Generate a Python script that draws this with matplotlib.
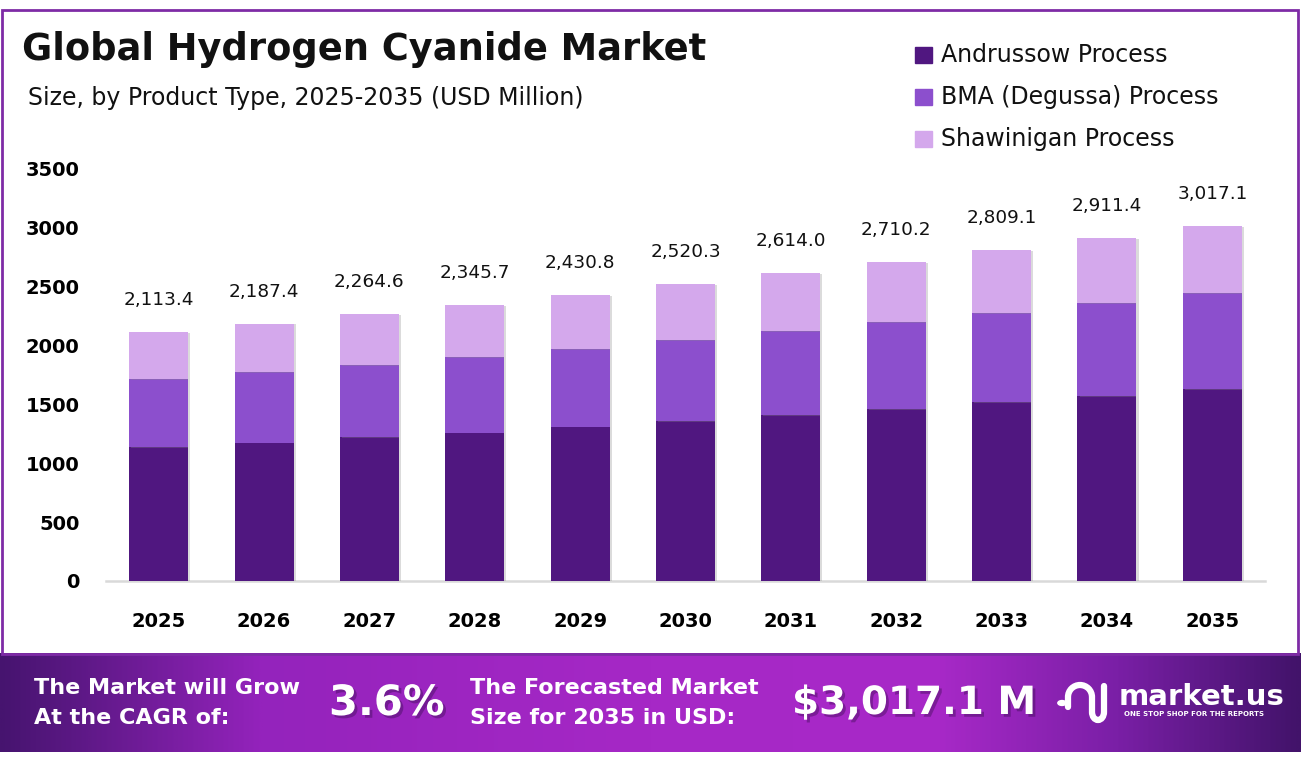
import numpy as np
import matplotlib.pyplot as plt
import matplotlib.patheffects as pe
from matplotlib.colors import LinearSegmentedColormap
from matplotlib.patches import Rectangle, Arc
from matplotlib.lines import Line2D

plt.rcParams['font.family'] = ['DejaVu Sans']

# Données (USD Million)
years = ["2025", "2026", "2027", "2028", "2029", "2030", "2031", "2032", "2033", "2034", "2035"]
andrussow = [1136, 1176, 1221, 1261, 1312, 1355, 1406, 1457, 1517, 1568, 1627]
bma = [576, 596, 611, 639, 656, 690, 715, 741, 758, 792, 818]
shawinigan = [401, 415, 433, 446, 463, 475, 493, 512, 534, 551, 572]
totals = [2113.4, 2187.4, 2264.6, 2345.7, 2430.8, 2520.3, 2614.0, 2710.2, 2809.1, 2911.4, 3017.1]
series_names = ["Andrussow Process", "BMA (Degussa) Process", "Shawinigan Process"]
colors = ["#501780", "#8C4FCD", "#D4A8EC"]
cagr = "3.6%"
forecast = "$3,017.1 M"

W, H = 1301, 766
fig = plt.figure(figsize=(W / 100, H / 100), dpi=100)

def fx(x):
    return x / W

def fy(y):
    return 1 - y / H

# cadre violet
fig.patches.append(Rectangle((fx(2), fy(654)), fx(1296), fy(10) - fy(654),
                             transform=fig.transFigure, fill=False,
                             edgecolor="#7E2BA6", linewidth=2, zorder=0))

# graphique
ax = fig.add_axes([fx(106), fy(581), fx(1265) - fx(106), fy(169) - fy(581)])
x = np.arange(len(years))
shadow = [pe.SimplePatchShadow(offset=(1.5, -0.5), shadow_rgbFace="#888888", alpha=0.3), pe.Normal()]
bottom = np.zeros(len(years))
for vals, name, c in zip([andrussow, bma, shawinigan], series_names, colors):
    bars = ax.bar(x, vals, width=0.56, bottom=bottom, color=c, label=name, zorder=3)
    for b in bars:
        b.set_path_effects(shadow)
    bottom = bottom + np.array(vals)

for xi, t in zip(x, totals):
    ax.annotate(f"{t:,.1f}", (xi, t), xytext=(0, 23), textcoords="offset points",
                ha="center", va="center", fontsize=13.3, color="#111111")

ax.set_xlim(-0.5, 10.5)
ax.set_ylim(0, 3500)
ax.set_yticks(range(0, 3501, 500))
ax.set_xticks(x)
ax.set_xticklabels(years)
for s in ["top", "right", "left"]:
    ax.spines[s].set_visible(False)
ax.spines["bottom"].set_color("#D9D9D9")
ax.spines["bottom"].set_linewidth(1.8)
ax.tick_params(axis="both", length=0, labelsize=14)
ax.tick_params(axis="y", pad=19)
ax.tick_params(axis="x", pad=22)
for lab in ax.get_xticklabels() + ax.get_yticklabels():
    lab.set_fontweight("bold")

# titre
fig.text(fx(22), fy(49), "Global Hydrogen Cyanide Market", fontsize=26.5, fontweight="bold",
         ha="left", va="center", color="#111111")
fig.text(fx(28), fy(98), "Size, by Product Type, 2025-2035 (USD Million)", fontsize=17,
         ha="left", va="center", color="#111111")

# légende
for i, (name, c) in enumerate(zip(series_names, colors)):
    yy = 55 + 42 * i
    fig.patches.append(Rectangle((fx(915), fy(yy + 8)), fx(17), fy(yy - 8) - fy(yy + 8),
                                 transform=fig.transFigure, color=c))
    fig.text(fx(941), fy(yy), name, fontsize=17, ha="left", va="center", color="#111111")

# bandeau du bas
cmap = LinearSegmentedColormap.from_list("banner", [
    (0.0, "#46146F"), (0.2, "#9423BC"), (0.5, "#A628C6"),
    (0.72, "#A829C8"), (0.86, "#7A1FA6"), (1.0, "#42136A")])
bax = fig.add_axes([0, fy(752), 1, fy(653) - fy(752)])
bax.imshow(np.linspace(0, 1, 512).reshape(1, -1), cmap=cmap, aspect="auto", extent=(0, 1, 0, 1))
bax.axis("off")

txt_shadow = [pe.withSimplePatchShadow(offset=(2, -2), shadow_rgbFace="#2a0840", alpha=0.35)]
fig.text(fx(34), fy(703), "The Market will Grow\nAt the CAGR of:", fontsize=16, fontweight="bold",
         color="white", ha="left", va="center", linespacing=1.6)
fig.text(fx(329), fy(703), cagr, fontsize=30, fontweight="bold", color="white",
         ha="left", va="center", path_effects=txt_shadow)
fig.text(fx(470), fy(703), "The Forecasted Market\nSize for 2035 in USD:", fontsize=16, fontweight="bold",
         color="white", ha="left", va="center", linespacing=1.6)
fig.text(fx(792), fy(703), forecast, fontsize=28, fontweight="bold", color="white",
         ha="left", va="center", path_effects=txt_shadow)

# logo market.us
lw = 4.5
fig.patches.append(plt.Circle((fx(1062), fy(703)), 0.0032, transform=fig.transFigure, color="white"))
fig.patches.append(Arc((fx(1080), fy(697)), fx(24), fy(0) - fy(24), theta1=0, theta2=180,
                       transform=fig.transFigure, color="white", linewidth=lw))
fig.lines.append(Line2D([fx(1068), fx(1068)], [fy(697), fy(707)], transform=fig.transFigure,
                        color="white", linewidth=lw, solid_capstyle="round"))
fig.lines.append(Line2D([fx(1092), fx(1092)], [fy(697), fy(712)], transform=fig.transFigure,
                        color="white", linewidth=lw, solid_capstyle="round"))
fig.lines.append(Line2D([fx(1104), fx(1104)], [fy(686), fy(712)], transform=fig.transFigure,
                        color="white", linewidth=lw, solid_capstyle="round"))
fig.patches.append(Arc((fx(1098), fy(712)), fx(12), fy(0) - fy(16), theta1=180, theta2=360,
                       transform=fig.transFigure, color="white", linewidth=lw))
fig.text(fx(1119), fy(697), "market.us", fontsize=21, fontweight="bold", color="white",
         ha="left", va="center")
fig.text(fx(1124), fy(714), "ONE STOP SHOP FOR THE REPORTS", fontsize=5, fontweight="bold",
         color="white", ha="left", va="center")

fig.savefig("out.png", dpi=100)
